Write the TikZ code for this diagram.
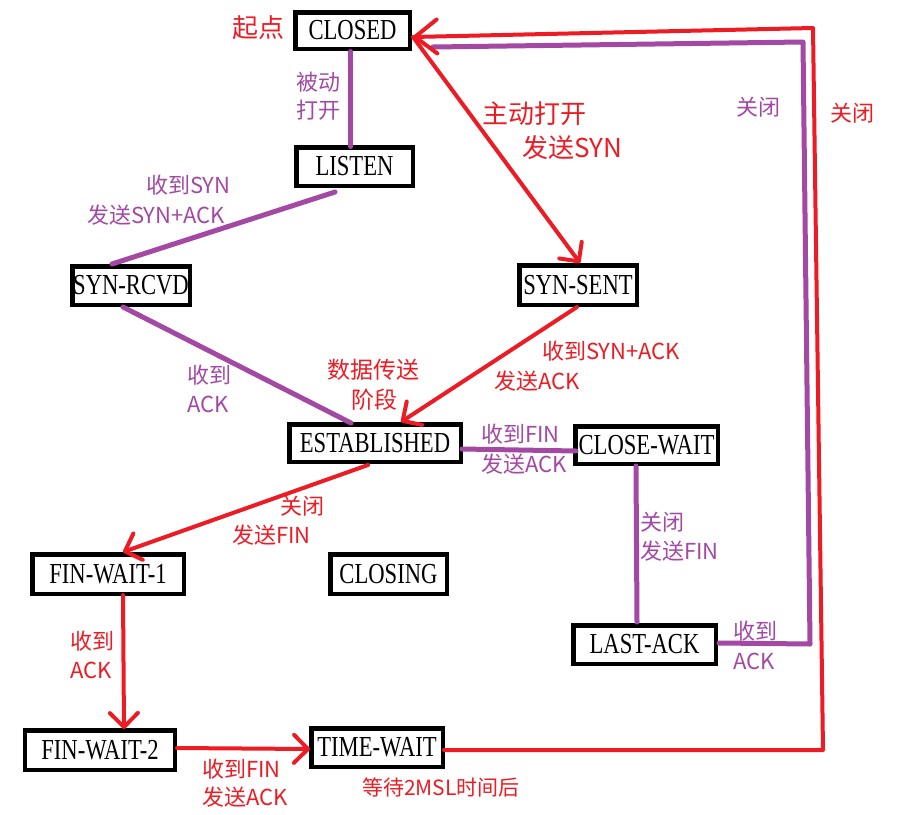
\documentclass[tikz,border=0pt]{standalone}
\usepackage{fontspec}
\setmainfont{Liberation Serif}
\newfontfamily\cjkf{Noto Sans CJK SC}
\newfontfamily\boxf[FakeStretch=0.78]{Liberation Serif}
\usetikzlibrary{arrows.meta,calc}
\definecolor{pred}{HTML}{ED1C24}
\definecolor{ppur}{HTML}{A349A4}
\begin{document}
\begin{tikzpicture}[x=1pt,y=-1pt,
  state/.style={draw=black,line width=4.5pt,fill=white,inner sep=0pt,outer sep=0pt,font=\boxf\fontsize{29}{32}\selectfont},
  rline/.style={draw=pred,line width=4pt,line cap=round,line join=round},
  pline/.style={draw=ppur,line width=5pt,line cap=round,line join=round},
  tipS/.style={-{Straight Barb[length=14pt,width=28pt,round]}},
  tipL/.style={-{Straight Barb[length=22pt,width=34pt,round]}},
  rlab/.style={text=pred,inner sep=0pt,anchor=west,font=\cjkf\fontsize{22}{26}\selectfont},
  plab/.style={text=ppur,inner sep=0pt,anchor=west,font=\cjkf\fontsize{22}{26}\selectfont},
  big/.style={font=\cjkf\fontsize{26}{30}\selectfont},
  mid/.style={font=\cjkf\fontsize{23}{27}\selectfont},
  small/.style={font=\cjkf\fontsize{21}{25}\selectfont}
]
\fill[white] (0,0) rectangle (899,814);
\useasboundingbox (0,0) rectangle (899,814);

% states
\node[state,minimum width=114.5pt,minimum height=36.5pt] (closed) at (352.5,30.5) {CLOSED};
\node[state,minimum width=116.5pt,minimum height=38.5pt] (listen) at (354.5,166.5) {LISTEN};
\node[state,minimum width=117.5pt,minimum height=38.5pt] (synrcvd) at (131,285.5) {SYN-RCVD};
\node[state,minimum width=117.5pt,minimum height=39.5pt] (synsent) at (578,285) {SYN-SENT};
\node[state,minimum width=171.5pt,minimum height=37.5pt] (est) at (375,443) {ESTABLISHED};
\node[state,minimum width=142.5pt,minimum height=37.5pt] (cw) at (646.5,445) {CLOSE-WAIT};
\node[state,minimum width=142.5pt,minimum height=38.5pt] (la) at (644.5,644.5) {LAST-ACK};
\node[state,minimum width=151.5pt,minimum height=39.5pt] (fw1) at (108,574) {FIN-WAIT-1};
\node[state,minimum width=116.5pt,minimum height=39.5pt] (closing) at (388.5,574) {CLOSING};
\node[state,minimum width=150pt,minimum height=39.5pt] (fw2) at (100,750) {FIN-WAIT-2};
\node[state,minimum width=131.5pt,minimum height=38.5pt] (tw) at (377,747.5) {TIME-WAIT};

% free ends / bends
\coordinate (pend) at (433,47);
\coordinate (pc1) at (810,644);
\coordinate (pc2) at (803,42);
\coordinate (rc1) at (823,750);
\coordinate (rc2) at (813,28);

% connectors
\draw[pline] ($(closed.center)+(-2,21)$) -- ($(listen.center)+(-4,-20)$);
\draw[pline] ($(listen.center)+(-19.5,25.5)$) -- ($(synrcvd.center)+(-19,-21.5)$);
\draw[rline,tipS] ($(closed.center)+(60.5,6.5)$) -- ($(synsent.center)+(2,-22)$);
\draw[rline,tipS] ($(synsent.center)+(-1,22)$) -- ($(est.center)+(26,-21)$);
\draw[pline] ($(synrcvd.center)+(-8,21.5)$) -- ($(est.center)+(-24,-20)$);
\draw[pline] ($(est.center)+(87,6)$) -- ($(cw.center)+(-70.5,6)$);
\draw[pline] ($(cw.center)+(-10.5,21)$) -- ($(la.center)+(-7.5,-22.5)$);
\draw[pline] ($(la.center)+(74.5,-1.5)$) -- (pc1) -- (pc2) -- (pend);
\draw[rline,tipL] ($(tw.center)+(67,2.5)$) -- (rc1) -- (rc2) -- ($(closed.center)+(60.5,6.5)$);
\draw[rline,tipS] ($(est.center)+(-7,22)$) -- ($(fw1.center)+(15,-22)$);
\draw[rline,tipS] ($(fw1.center)+(15,21)$) -- ($(fw2.center)+(24,-21)$);
\draw[rline,tipS] ($(fw2.center)+(77,-2)$) -- ($(tw.center)+(-67,1.5)$);

% labels
\node[rlab,big] (lqd) at (232,28) {起点};
\node[plab] (lbd1) at (296,82) {被动};
\node[plab] (lbd2) at (296,110) {打开};
\node[rlab,big] (lzd1) at (482,114) {主动打开};
\node[rlab,big] (lzd2) at (522,148) {发送SYN};
\node[plab] (lsyn1) at (146,185) {收到SYN};
\node[plab] (lsyn2) at (87,215) {发送SYN+ACK};
\node[plab] (lack1) at (187,375) {收到};
\node[plab] (lack2) at (187,404) {ACK};
\node[rlab,mid] (lsj1) at (327,370) {数据传送};
\node[rlab,mid] (lsj2) at (351,400) {阶段};
\node[rlab] (lsa1) at (542,351) {收到SYN+ACK};
\node[rlab] (lsa2) at (494,381) {发送ACK};
\node[plab] (lfin1) at (481,434) {收到FIN};
\node[plab] (lfin2) at (481,464) {发送ACK};
\node[plab] (lgb1) at (640,522) {关闭};
\node[plab] (lgb2) at (640,551) {发送FIN};
\node[plab] (lla1) at (733,631) {收到};
\node[plab] (lla2) at (733,661) {ACK};
\node[plab] (lgbp) at (736,107) {关闭};
\node[rlab] (lgbr) at (830,113) {关闭};
\node[rlab] (lf1) at (280,506) {关闭};
\node[rlab] (lf2) at (232,535) {发送FIN};
\node[rlab] (lw1) at (70,641) {收到};
\node[rlab] (lw2) at (70,670) {ACK};
\node[rlab] (lt1) at (202,769) {收到FIN};
\node[rlab] (lt2) at (202,797) {发送ACK};
\node[rlab,small] (lmsl) at (362,787) {等待2MSL时间后};
\end{tikzpicture}
\end{document}
